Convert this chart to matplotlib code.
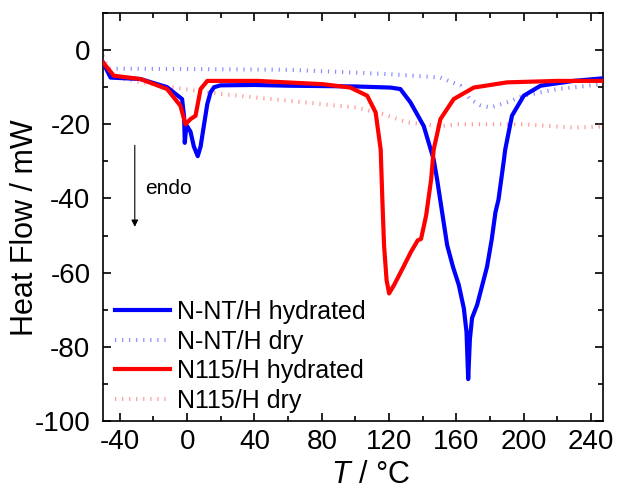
import matplotlib
matplotlib.use("Agg")
import matplotlib.pyplot as plt
from matplotlib.ticker import MultipleLocator

plt.rcParams['font.family'] = ['Liberation Sans', 'DejaVu Sans']
plt.rcParams['mathtext.fontset'] = 'custom'
plt.rcParams['mathtext.it'] = 'Liberation Sans:italic'
plt.rcParams['mathtext.rm'] = 'Liberation Sans'
plt.rcParams['axes.unicode_minus'] = False

# N-NT/H hydrated
t_nnt_hyd = [-50, -45.5, -27.7, -11.9, -3, -1.8, -1.4, -0.8, 0, 2, 4, 6.3, 8, 9.9, 12, 13.9, 16, 19.8,
             40, 61, 100, 120.8, 126.7, 132.7, 140.6, 146.5, 148.5, 151.5, 154.5, 158, 161.4, 164.4,
             166, 167, 168, 169.3, 172.3, 175, 178.2, 181, 183.2, 185, 188.1, 189, 193, 200, 210, 229.7, 247]
hf_nnt_hyd = [-3.3, -7.4, -7.8, -10, -13.2, -18, -25, -22, -20.5, -22, -26, -28.6, -26, -20.5, -14.5, -11.4, -10, -9.5,
              -9.4, -9.6, -9.8, -10.1, -10.5, -14.1, -20.5, -29.5, -34.8, -43.7, -52.6, -58.5, -63.3, -69.6,
              -76, -88.7, -78, -72.2, -68.7, -64, -58.4, -51, -43.7, -40.3, -30, -26.8, -17.7, -12.3, -9.6, -8.3, -7.6]

# N-NT/H dry
t_nnt_dry = [-50, -45.5, 0, 61, 120.8, 150.5, 162.4, 168, 174, 180, 190, 200, 219.8, 247]
hf_nnt_dry = [-4.2, -5, -5.1, -5.3, -6.5, -7.4, -9.6, -13.2, -14.8, -15.5, -14.1, -12.3, -10.5, -9.2]

# N115/H hydrated
t_n115_hyd = [-50, -43.6, -27.7, -11.9, -4, -1, 2, 5, 8, 12, 41.6, 81, 97, 107, 112, 115, 116, 117,
              118.5, 120, 123, 128, 133, 137, 139, 142, 145, 146.5, 150.5, 158.4, 170.3, 190, 220, 247]
hf_n115_hyd = [-3.3, -6.9, -7.8, -10.5, -15, -20, -18.6, -17.7, -10.5, -8.3, -8.3, -9.2, -10.1, -12.3, -16.8, -26.8, -40.3, -52.6,
               -62, -65.6, -63.3, -58.9, -54.4, -51.3, -50.9, -44.6, -34.8, -26.8, -18.6, -13.2, -10.1, -8.7, -8.3, -8.3]

# N115/H dry
t_n115_dry = [-50, -45.5, -27.7, -2, 21.8, 61, 101, 116.8, 130.7, 150.5, 160.4, 200, 229.7, 247]
hf_n115_dry = [-1.5, -7, -8.7, -10.5, -11.9, -13.7, -15.5, -17.3, -19.5, -20.5, -20, -20, -20.9, -20.6]

labels = ['N-NT/H hydrated', 'N-NT/H dry', 'N115/H hydrated', 'N115/H dry']

fig = plt.figure(figsize=(6.26, 4.93), dpi=100)
ax = fig.add_axes([0.1645, 0.146, 0.7985, 0.8276])

dry_style = dict(lw=2.9, ls=(0, (0.3, 1.45)), dash_capstyle='butt')
ax.plot(t_nnt_hyd, hf_nnt_hyd, color='#0000ff', lw=3, label=labels[0], zorder=3)
ax.plot(t_nnt_dry, hf_nnt_dry, color='#8c8cff', label=labels[1], zorder=2, **dry_style)
ax.plot(t_n115_hyd, hf_n115_hyd, color='#ff0000', lw=3, label=labels[2], zorder=4)
ax.plot(t_n115_dry, hf_n115_dry, color='#ff9a9a', label=labels[3], zorder=2, **dry_style)

ax.set_xlim(-50, 247)
ax.set_ylim(-100, 10)
ax.xaxis.set_major_locator(MultipleLocator(40))
ax.xaxis.set_minor_locator(MultipleLocator(20))
ax.yaxis.set_major_locator(MultipleLocator(20))
ax.yaxis.set_minor_locator(MultipleLocator(10))
ax.tick_params(which='both', direction='in', top=True, right=True, labelsize=20, width=1.2)
ax.tick_params(axis='y', which='both', pad=9)
ax.tick_params(axis='x', which='both', pad=6)
ax.tick_params(which='major', length=6)
ax.tick_params(which='minor', length=3.5)
for s in ax.spines.values():
    s.set_linewidth(1.2)

ax.set_xlabel(r'$T$ / °C', fontsize=22)
ax.set_ylabel('Heat Flow / mW', fontsize=22)
ax.xaxis.set_label_coords(0.536, -0.095)
ax.yaxis.set_label_coords(-0.126, 0.473)

ax.annotate('', xy=(-31.1, -48.4), xytext=(-31.1, -24.9),
            arrowprops=dict(arrowstyle='-|>', color='black', lw=0.8, mutation_scale=10))
ax.text(-24.7, -37.3, 'endo', fontsize=15, va='center', ha='left')

leg = ax.legend(loc='lower left', fontsize=18, frameon=False, handlelength=2.2,
                borderaxespad=0.1, labelspacing=0.22, handletextpad=0.25,
                bbox_to_anchor=(0.0, -0.01))

fig.savefig('out.png', dpi=100)
